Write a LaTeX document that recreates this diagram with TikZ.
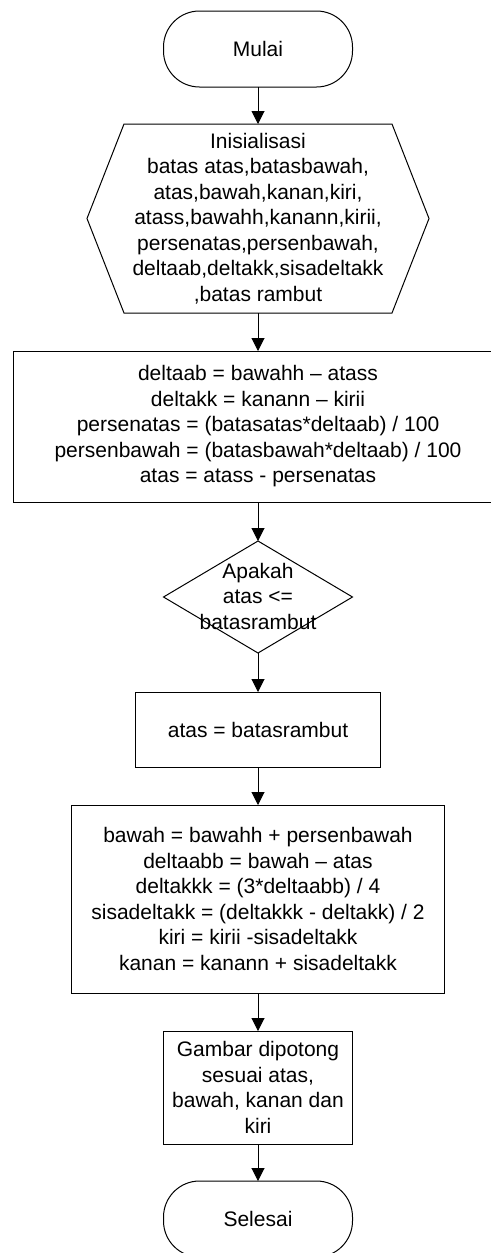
\documentclass[tikz,border=0pt]{standalone}
\usepackage{fontspec}
\setmainfont{Liberation Sans}
\usetikzlibrary{arrows.meta,shapes.geometric,calc}
\begin{document}
\begin{tikzpicture}[x=0.5pt,y=-0.5pt,
  every node/.style={inner sep=0pt, outer sep=0pt},
  txt/.style={align=center, font=\fontsize{10.5}{12.75}\selectfont},
  box/.style={draw, line width=0.5pt, rectangle, txt},
  term/.style={draw, line width=0.5pt, rectangle, rounded corners=18pt, minimum width=94.5pt, minimum height=38pt, txt},
  flow/.style={line width=0.5pt, -{Triangle[length=6.5pt,width=6.5pt]}},
]
\clip (0,0) rectangle (491,1253);
\fill[white] (0,0) rectangle (491,1253);

\node[term] (mulai) at (258,49) {Mulai};

\node[txt, minimum width=134pt, minimum height=94.5pt] (hex) at (258,218.5)
  {Inisialisasi\\batas atas,batasbawah,\\atas,bawah,kanan,kiri,\\atass,bawahh,kanann,kirii,\\persenatas,persenbawah,\\deltaab,deltakk,sisadeltakk\\,batas rambut};
\draw[line width=0.5pt] (hex.north west) -- (hex.north east) -- ($(hex.east)+(37,0)$)
  -- (hex.south east) -- (hex.south west) -- ($(hex.west)+(-37,0)$) -- cycle;

\node[box, minimum width=245pt, minimum height=75.5pt] (p1) at (258,426.5)
  {deltaab = bawahh – atass\\deltakk = kanann – kirii\\persenatas = (batasatas*deltaab) / 100\\persenbawah = (batasbawah*deltaab) / 100\\atas = atass - persenatas};

\node[draw, line width=0.5pt, diamond, minimum width=94.5pt, minimum height=56pt] (dia) at (258,597) {};
\node[txt] (diatxt) at (258,596) {Apakah\\atas <=\\batasrambut};

\node[box, minimum width=122.5pt, minimum height=37.5pt] (p2) at (258,729.5) {atas = batasrambut};

\node[box, minimum width=186.5pt, minimum height=94pt] (p3) at (258,899)
  {bawah = bawahh + persenbawah\\deltaabb = bawah – atas\\deltakkk = (3*deltaabb) / 4\\sisadeltakk = (deltakkk - deltakk) / 2\\kiri = kirii -sisadeltakk\\kanan = kanann + sisadeltakk};

\node[box, minimum width=94.5pt, minimum height=56.5pt] (p4) at (258,1087.5)
  {Gambar dipotong\\sesuai atas,\\bawah, kanan dan\\kiri};

\node[term] (selesai) at (258,1219) {Selesai};

\draw[flow] (mulai) -- (hex);
\draw[flow] (hex) -- (p1);
\draw[flow] (p1) -- (dia);
\draw[flow] (dia) -- (p2);
\draw[flow] (p2) -- (p3);
\draw[flow] (p3) -- (p4);
\draw[flow] (p4) -- (selesai);
\end{tikzpicture}
\end{document}
